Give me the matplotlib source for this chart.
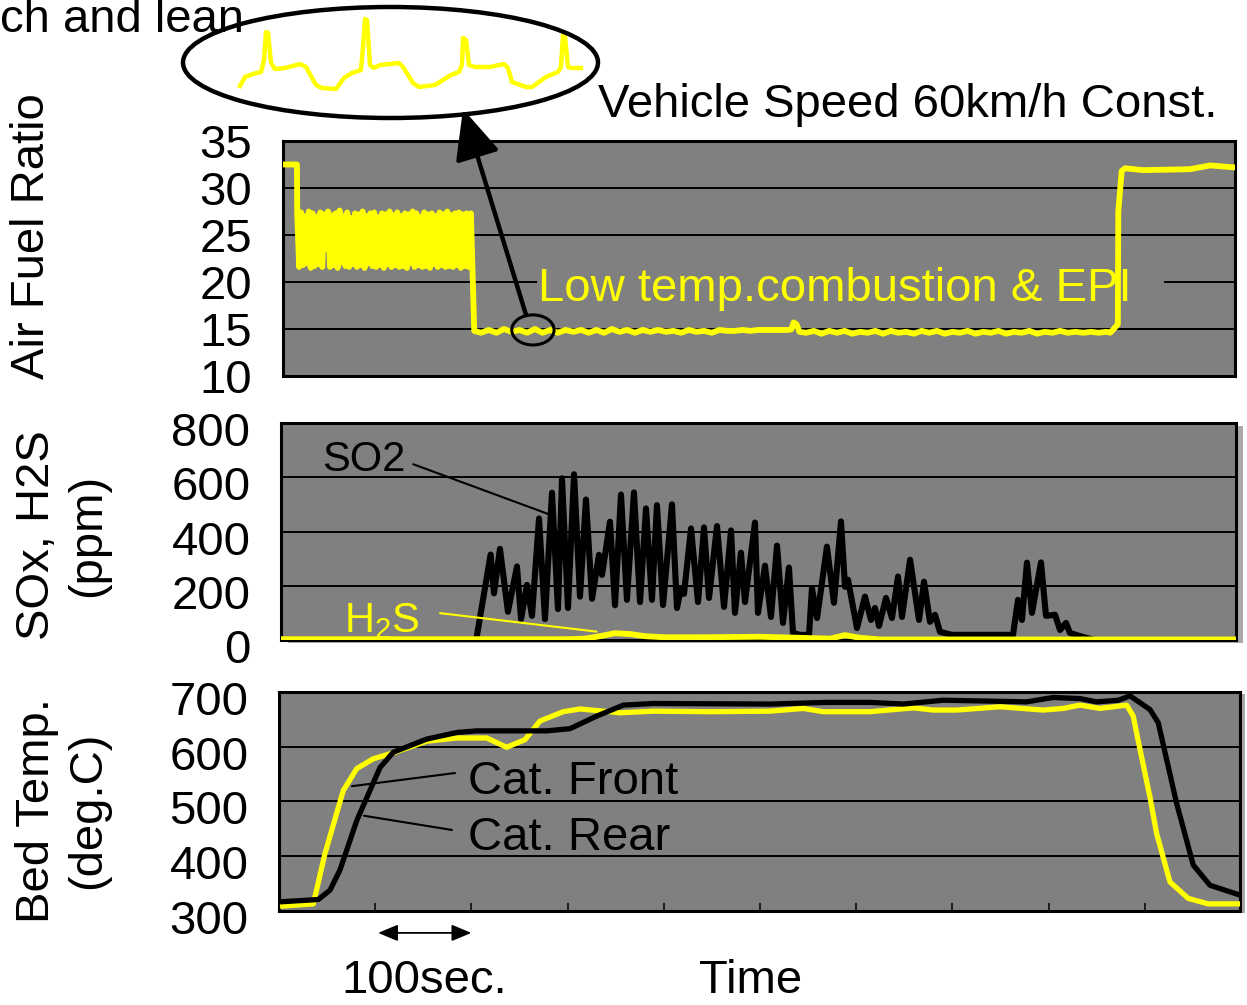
import matplotlib
matplotlib.use('Agg')
import matplotlib.pyplot as plt
import matplotlib.transforms as mtransforms
from matplotlib.patches import Ellipse, Rectangle
import numpy as np

plt.rcParams['font.family'] = ['Liberation Sans', 'DejaVu Sans']
plt.rcParams['mathtext.fontset'] = 'custom'
plt.rcParams['mathtext.rm'] = 'Liberation Sans'

W, H = 1247, 1005
GRAY = '#808080'
YEL = '#ffff00'
FS = 34

# ---- air fuel ratio (top) ----
afr_lean_t = [4, 18.7]
afr_lean = [32.5, 32.5]
afr_osc_t = np.arange(19, 199, 2)
afr_osc = [27.2, 21.6, 27.4, 21.8, 27.0, 22.0, 27.5, 21.5, 27.3, 21.7,
           26.9, 21.9, 27.4, 21.6, 27.2, 23.5, 27.5, 21.6, 27.1, 21.8,
           27.3, 21.5, 27.6, 22.1, 27.0, 21.7, 27.4, 21.6, 26.8, 21.9,
           27.3, 21.6, 27.2, 21.8, 27.5, 21.5, 27.0, 22.0, 27.3, 21.7,
           27.4, 21.6, 26.9, 21.8, 27.3, 21.5, 27.2, 21.9, 27.5, 21.6,
           27.1, 21.8, 27.4, 21.6, 27.0, 21.7, 27.3, 21.5, 27.2, 22.0,
           27.5, 21.6, 27.3, 21.8, 26.9, 21.6, 27.4, 21.7, 27.2, 21.5,
           27.3, 21.9, 27.0, 21.6, 27.4, 21.8, 27.2, 21.6, 27.5, 21.7,
           27.1, 21.6, 27.3, 21.8, 27.4, 21.5, 27.2, 21.7, 27.3, 21.6]
afr_low_t = [199.5, 203, 210,
             218, 226, 234, 242, 250, 258, 266, 274, 282, 290,
             298, 306, 314, 322, 330, 338, 346, 354, 362, 370,
             378, 386, 394, 402, 410, 418, 426, 434, 442, 450,
             458, 466, 474, 482, 490, 498, 506, 514, 522, 530,
             533, 535, 538, 541,
             548, 556, 564, 572, 580, 588, 596, 604, 612, 620,
             628, 636, 644, 652, 660, 668, 676, 684, 692, 700,
             708, 716, 724, 732, 740, 748, 756, 764, 772, 780,
             788, 796, 804, 812, 820, 828, 836, 844, 852, 860,
             864]
afr_low = [27.3, 14.8, 14.6,
           14.9, 14.6, 15.0, 14.7, 14.9, 14.6, 15.0, 14.6, 14.9, 14.6,
           14.9, 14.7, 14.9, 14.6, 14.9, 14.6, 15.0, 14.7, 14.9, 14.6,
           14.9, 14.7, 14.9, 14.7, 14.8, 14.6, 14.9, 14.7, 14.8, 14.6,
           14.9, 14.8, 14.8, 14.9, 14.8, 14.9, 14.9, 14.9, 14.9, 14.9,
           15.0, 15.7, 15.5, 14.7,
           14.6, 14.8, 14.5, 14.8, 14.6, 14.8, 14.5, 14.7, 14.6, 14.8,
           14.5, 14.8, 14.6, 14.7, 14.5, 14.8, 14.6, 14.8, 14.5, 14.7,
           14.6, 14.8, 14.5, 14.7, 14.6, 14.8, 14.5, 14.7, 14.6, 14.8,
           14.5, 14.7, 14.6, 14.8, 14.6, 14.7, 14.6, 14.7, 14.6, 14.7,
           14.6]
afr_end_t = [866, 872, 872.5, 876, 879.5, 898, 947, 968, 992]
afr_end = [14.8, 15.5, 27.5, 31.8, 32.1, 31.9, 32.0, 32.4, 32.2]

# schematic close-up drawn inside the big ellipse
zoom_u = [40, 45, 53, 61, 64, 66, 68, 71, 75, 85, 100, 106, 116, 122, 136, 144, 152, 161,
          163, 165, 167, 170, 174, 180, 199, 203, 213, 219, 235, 251, 259, 262, 263, 266,
          269, 275, 290, 304, 308, 312, 326, 332, 346, 358, 361, 363, 365, 368, 372, 381]
zoom_v = [14, 23, 26, 28, 40, 68, 67, 37, 31, 32, 36, 33, 15, 12, 11, 22, 27, 30,
          53, 81, 80, 35, 32, 35, 37, 33, 17, 13, 15, 25, 28, 35, 62, 60,
          35, 33, 33, 36, 32, 18, 13, 13, 23, 28, 33, 65, 63, 33, 32, 32]

# ---- SOx / H2S (middle) ----
so2_t = [2, 205, 220, 223.5, 229.7, 238, 247.4, 251.6, 257.8, 263,
         270.3, 276.5, 283.8, 290, 294.2, 300.4, 306.7, 312.9, 319.1, 325.4,
         332.6, 335.8, 344.1, 349.3, 355.5, 361.7, 369, 375.3, 381.5, 387.7,
         392.9, 399.2, 408.5, 413.7, 417.9, 421, 428.3, 435.6, 441.8, 447,
         455.3, 462.6, 469.9, 474, 480.2, 484.4, 494.8, 497.9, 505.2, 511.4,
         517.7, 523.9, 530.1, 534.3, 541.6, 551, 554, 559.3, 569.6, 576.9,
         584.2, 588.4, 591.5, 600.8, 609.1, 615.4, 619.5, 623.7, 631, 637.2,
         643.5, 647.6, 656, 665.3, 670.5, 676.7, 681.9, 687.1, 699.6, 763,
         768.2, 772.3, 777.5, 782.7, 792.1, 797.3, 806.7, 811.9, 818.1, 822.2,
         835.8, 848.2, 995]
so2_ppm = [0, 0, 315, 172, 336, 104, 271, 77, 203, 89,
           448, 77, 543, 114, 596, 118, 611, 160, 518, 152,
           314, 240, 436, 128, 536, 148, 544, 140, 485, 148,
           497, 129, 500, 118, 192, 170, 411, 140, 415, 155,
           420, 122, 404, 100, 322, 140, 433, 100, 274, 85,
           348, 63, 267, 26, 19, 19, 191, 81, 344, 137,
           437, 196, 222, 44, 160, 74, 118, 52, 155, 81,
           234, 85, 296, 74, 215, 67, 93, 30, 19, 19,
           148, 74, 285, 100, 286, 89, 93, 37, 63, 26,
           11, 0, 0]
h2s_t = [2, 302.5, 318, 333.7, 349, 364.9, 380.5, 401.2, 437.6, 500, 541.6, 572.8, 588.4, 604, 624.8, 995]
h2s_ppm = [3, 3, 5, 14, 25, 22, 14, 10, 10, 12, 8, 5, 18, 8, 2, 2]

# ---- bed temperature (bottom) ----
front_t = [3.8, 35.7, 47.8, 66.8, 80.8, 98, 118.8, 153.5, 184.7, 215.9,
           236.7, 255.7, 271.3, 295.5, 313, 337.1, 354.5, 389.1, 448, 510.4,
           545, 565.8, 614.3, 659.4, 680.1, 704.5, 749.5, 794.5, 815.3, 832.6,
           853.4, 881.2, 888, 893.2, 905.4, 912.4, 926.2, 945.2, 966, 999]
front_deg = [309, 313, 405, 520, 560, 578, 589, 610, 616, 616,
             599, 613, 647, 664, 669, 665, 662, 665, 664, 665,
             670, 664, 664, 671, 667, 667, 673, 667, 670, 676,
             670, 676, 656, 611, 508, 441, 353, 323, 313, 313]
rear_t = [3.8, 40.9, 53, 63.4, 80.8, 105, 118.8, 153.5, 184.7, 205.5,
          261, 278.3, 302.5, 330.3, 357.9, 389.1, 510.4, 569.3, 614.3, 649,
          690.5, 777.2, 804.9, 832.6, 850, 872.5, 884.6, 905.4, 914, 933.2,
          950.4, 967.8, 999]
rear_deg = [317, 321, 338, 375, 465, 562, 590, 614, 626, 629,
            629, 629, 633, 656, 676, 679, 678, 681, 681, 678,
            685, 682, 690, 688, 682, 685, 693, 668, 644, 496,
            384, 347, 329]

afr_ticks = [10, 15, 20, 25, 30, 35]
sox_ticks = [0, 200, 400, 600, 800]
bed_ticks = [300, 400, 500, 600, 700]
time_ticks = [100, 200, 300, 400, 500, 600, 700, 800, 900]


def box(l, t, r, b):
    return [l / W, 1 - b / H, (r - l) / W, (b - t) / H]


fig = plt.figure(figsize=(W / 100, H / 100), dpi=100)

# drop shadows behind the plot areas
for (l, t, r, b), dx, dy in [((283, 141, 1235, 376), 2, 2),
                             ((281, 423, 1236, 640), 7, 3),
                             ((279, 692, 1240, 911), 5, 2)]:
    fig.add_artist(Rectangle(((l + dx) / W, 1 - (b + dy) / H), (r - l) / W, (b - t) / H,
                             transform=fig.transFigure, facecolor='#a8a8a8',
                             edgecolor='none', zorder=0))

ax1 = fig.add_axes(box(283, 141, 1235, 376))
ax2 = fig.add_axes(box(281, 423, 1236, 640))
ax3 = fig.add_axes(box(279, 692, 1240, 911))

for ax in (ax1, ax2, ax3):
    ax.set_facecolor(GRAY)
    ax.set_axisbelow(True)
    ax.yaxis.grid(True, color='k', lw=1.4)
    for s in ax.spines.values():
        s.set_linewidth(2.2)
        s.set_color('k')
    ax.tick_params(axis='y', length=0, labelsize=FS, pad=22)

# top panel
afr_t = np.concatenate([afr_lean_t, afr_osc_t, afr_low_t, afr_end_t])
afr = np.concatenate([afr_lean, afr_osc, afr_low, afr_end])
ax1.plot(afr_t, afr, color=YEL, lw=4.2, zorder=4)
ax1.set_xlim(4.2, 993.8)
ax1.set_ylim(10, 35)
ax1.set_yticks(afr_ticks)
ax1.set_xticks([])
ax1.add_patch(Rectangle((268, 19.55), 652, 0.9, facecolor=GRAY, edgecolor='none', zorder=1))
ax1.text(269.2, 17.93, 'Low temp.combustion & EPI', color=YEL, fontsize=FS,
         va='baseline', ha='left', zorder=3)
ax1.add_patch(Ellipse((264, 14.9), 44, 3.2, fill=False, edgecolor='k', lw=2.2, zorder=5))
ax1.annotate('', xy=(191.3, 38.4), xytext=(256.8, 16.5), annotation_clip=False,
             arrowprops=dict(arrowstyle='-|>,head_length=1.1,head_width=0.5', lw=3.2,
                             color='k', mutation_scale=28, shrinkA=0, shrinkB=0))

# middle panel
ax2.plot(so2_t, so2_ppm, color='k', lw=4.4, zorder=3)
ax2.plot(h2s_t, h2s_ppm, color=YEL, lw=4.2, zorder=4)
ax2.set_xlim(2.1, 994.8)
ax2.set_ylim(0, 800)
ax2.set_yticks(sox_ticks)
ax2.set_xticks(time_ticks)
ax2.tick_params(axis='x', direction='in', length=3, width=1, color='#c8c8c8', labelbottom=False)
ax2.text(44.7, 622, 'SO2', fontsize=30, va='baseline', ha='left')
ax2.annotate('', xy=(281, 463), xytext=(139.6, 648),
             arrowprops=dict(arrowstyle='-', lw=1.5, color='k', shrinkA=0, shrinkB=0))
ax2.text(67.6, 30, r'H$_\mathregular{2}$S', fontsize=30, color=YEL, va='baseline', ha='left')
ax2.annotate('', xy=(330, 31), xytext=(167.4, 99),
             arrowprops=dict(arrowstyle='-', lw=1.5, color=YEL, shrinkA=0, shrinkB=0))

# bottom panel
ax3.plot(front_t, front_deg, color=YEL, lw=3.8, zorder=3)
ax3.plot(rear_t, rear_deg, color='k', lw=3.8, zorder=4)
ax3.set_xlim(0, 999)
ax3.set_ylim(300, 700)
ax3.set_yticks(bed_ticks)
ax3.set_xticks(time_ticks)
ax3.tick_params(axis='x', direction='in', length=6, width=1.1, color='k', labelbottom=False)
ax3.text(196.5, 514, 'Cat. Front', fontsize=FS, va='baseline', ha='left')
ax3.text(196.5, 411, 'Cat. Rear', fontsize=FS, va='baseline', ha='left')
ax3.annotate('', xy=(75.9, 528), xytext=(183, 552),
             arrowprops=dict(arrowstyle='-', lw=1.5, color='k', shrinkA=0, shrinkB=0))
ax3.annotate('', xy=(88.4, 474), xytext=(179.8, 448),
             arrowprops=dict(arrowstyle='-', lw=1.5, color='k', shrinkA=0, shrinkB=0))
ax3.annotate('', xy=(200, 260), xytext=(103, 260), annotation_clip=False,
             arrowprops=dict(arrowstyle='<|-|>,head_length=0.6,head_width=0.25', lw=1.3,
                             color='k', mutation_scale=20, shrinkA=0, shrinkB=0))
ax3.text(64.4, 150, '100sec.', fontsize=FS, va='baseline', ha='left')
ax3.text(437, 150, 'Time', fontsize=FS, va='baseline', ha='left')

# tick labels of the two lower panels sit a little below their gridlines
shift = mtransforms.ScaledTranslation(0, -6 / 100, fig.dpi_scale_trans)
for ax in (ax2, ax3):
    for lab in ax.get_yticklabels():
        lab.set_transform(lab.get_transform() + shift)

# axis titles
fig.text(32 / W, 1 - 236 / H, 'Air Fuel Ratio', rotation=90, ha='center', va='center', fontsize=FS)
fig.text(62.5 / W, 1 - 535 / H, 'SOx, H2S\n(ppm)', rotation=90, ha='center', va='center',
         fontsize=FS, multialignment='center', linespacing=1.2)
fig.text(62.5 / W, 1 - 810 / H, 'Bed Temp.\n(deg.C)', rotation=90, ha='center', va='center',
         fontsize=FS, multialignment='center', linespacing=1.2)

# header texts and close-up
fig.text(0, 1 - 32 / H, 'ch and lean', fontsize=FS, ha='left', va='baseline')
fig.text(598 / W, 1 - 117 / H, 'Vehicle Speed 60km/h Const.', fontsize=FS, ha='left', va='baseline')
fig.add_artist(Ellipse((390.5 / W, 1 - 62.5 / H), 415 / W, 111 / H, transform=fig.transFigure,
                       fill=False, edgecolor='k', lw=3.2))
axz = fig.add_axes(box(200, 0, 600, 100))
axz.plot(zoom_u, zoom_v, color=YEL, lw=3.2)
axz.set_xlim(0, 400)
axz.set_ylim(0, 100)
axz.axis('off')

fig.savefig('out.png', dpi=100)
